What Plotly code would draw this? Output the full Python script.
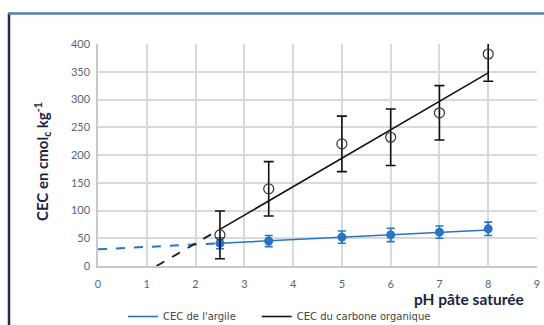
import plotly.graph_objects as go

# Data
ph = [2.5, 3.5, 5, 6, 7, 8]
cec_carbone = [56, 139, 220, 232, 276, 382]
err_carbone = [43, 49, 50, 51, 49, 49]
cec_argile = [41, 45, 52, 56, 61, 67]
err_argile = [10, 10, 11, 12, 11, 12]

# Trend lines
argile_fit_x = [2.5, 8]
argile_fit_y = [41, 65]
argile_ext_x = [0, 2.5]
argile_ext_y = [30, 41]
carbone_fit_x = [2.5, 8]
carbone_fit_y = [66, 348]
carbone_ext_x = [1.2, 2.5]
carbone_ext_y = [0, 66]

x_ticks = list(range(0, 10))
y_ticks = list(range(0, 401, 50))

BLUE = "#2775c4"
FONT = "Lato"
TICKCOL = "#5a6478"

fig = go.Figure()

fig.add_trace(go.Scatter(x=argile_ext_x, y=argile_ext_y, mode="lines",
                         line=dict(color=BLUE, width=2, dash="dash"), showlegend=False))
fig.add_trace(go.Scatter(x=carbone_ext_x, y=carbone_ext_y, mode="lines",
                         line=dict(color="#222222", width=2, dash="dash"), showlegend=False))
fig.add_trace(go.Scatter(x=argile_fit_x, y=argile_fit_y, mode="lines",
                         line=dict(color=BLUE, width=1.6), name="CEC de l'argile" + "\u00a0" * 5))
fig.add_trace(go.Scatter(x=carbone_fit_x, y=carbone_fit_y, mode="lines",
                         line=dict(color="#111111", width=1.6), name="CEC du carbone organique"))
fig.add_trace(go.Scatter(x=ph, y=cec_argile, mode="markers",
                         marker=dict(color=BLUE, size=9),
                         error_y=dict(type="data", array=err_argile, color=BLUE, thickness=1.6, width=4),
                         showlegend=False))
fig.add_trace(go.Scatter(x=ph, y=cec_carbone, mode="markers",
                         marker=dict(color="rgba(0,0,0,0)", size=10, line=dict(color="#333333", width=1.2)),
                         error_y=dict(type="data", array=err_carbone, color="#111111", thickness=1.6, width=5),
                         showlegend=False))

L, R, T, B = 98, 7, 44, 59
W, H = 544, 325
pw = W - L - R
ph_ = H - T - B

def px(x):
    return (x - L) / pw

def py(y):
    return (H - B - y) / ph_

fig.update_layout(
    width=W, height=H,
    margin=dict(l=L, r=R, t=T, b=B, autoexpand=False),
    paper_bgcolor="white", plot_bgcolor="white",
    font=dict(family=FONT, size=11, color=TICKCOL),
    showlegend=True,
    legend=dict(orientation="h", x=px(123), xanchor="left", y=py(302), yanchor="top",
                font=dict(size=10, color="#444444", family="DejaVu Sans"), itemwidth=30,
                bgcolor="rgba(0,0,0,0)"),
    xaxis=dict(range=[0, 9], tickvals=x_ticks, showgrid=True, gridcolor="#d9d9d9", gridwidth=1.5,
               zeroline=False, showline=True, linecolor="#c8c8c8", linewidth=1.5,
               tickfont=dict(size=11, color=TICKCOL), ticks="", ticklabelstandoff=7),
    yaxis=dict(range=[0, 400], tickvals=y_ticks, showgrid=True, gridcolor="#d9d9d9", gridwidth=1.5,
               zeroline=False, showline=True, linecolor="#c8c8c8", linewidth=1.5,
               tickfont=dict(size=11, color=TICKCOL), ticks="", ticklabelstandoff=4),
    annotations=[
        dict(text="CEC en cmol<sub>c</sub> kg<sup>-1</sup>", xref="paper", yref="paper",
             x=px(42), y=py(161), xanchor="center", yanchor="middle", textangle=-90, showarrow=False,
             font=dict(size=15, color="#1c2340", family=FONT, weight="bold")),
        dict(text="pH pâte saturée", xref="paper", yref="paper",
             x=px(469), y=py(299), xanchor="center", yanchor="middle", showarrow=False,
             font=dict(size=15.5, color="#1c2340", family=FONT, weight="bold")),
    ],
    shapes=[
        dict(type="line", xref="paper", yref="paper", x0=px(9), x1=px(9), y0=py(13), y1=py(330),
             line=dict(color="#1f2d50", width=2.5)),
        dict(type="line", xref="paper", yref="paper", x0=px(8), x1=px(550), y0=py(13.5), y1=py(13.5),
             line=dict(color="#5a7ca8", width=2.5)),
    ],
)

fig.write_html("out.html")
